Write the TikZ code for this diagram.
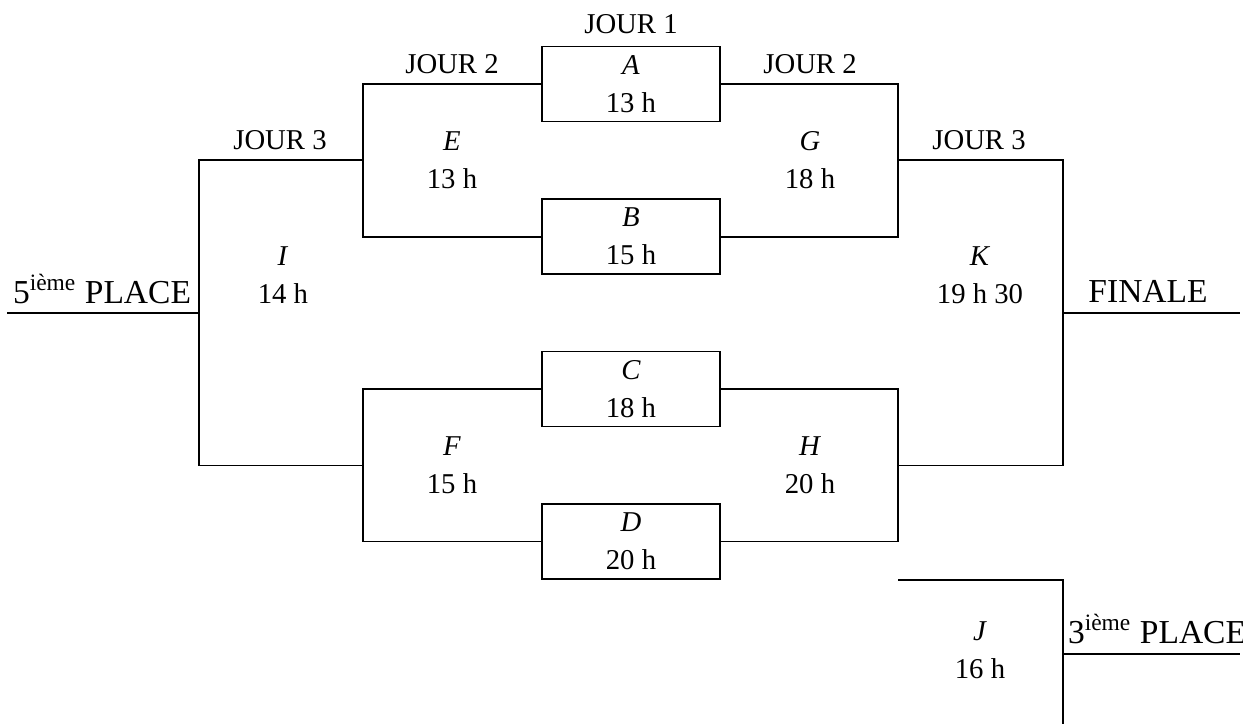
\documentclass[tikz,border=0pt]{standalone}
\usepackage{fontspec}
\setmainfont{Liberation Serif}
\usetikzlibrary{positioning}

\begin{document}
\begin{tikzpicture}[x=0.418pt, y=-0.418pt, line width=0.8pt,
	rencontre/.style={draw, rectangle, minimum width=74.4pt, minimum height=31.35pt,
		inner sep=0pt, align=center, font=\fontsize{12}{15.9}\selectfont},
	match/.style={align=center, inner sep=0pt, font=\fontsize{12}{15.9}\selectfont},
	jour/.style={anchor=base, inner sep=0pt, font=\fontsize{12}{14}\selectfont},
	place/.style={anchor=base, inner sep=0pt, font=\fontsize{14}{16}\selectfont}]
	\useasboundingbox (0,0) rectangle (1243,724);
	% JOUR 1
	\node[rencontre] (A) at (631,84) {\textit{A}\\13 h};
	\node[rencontre] (B) at (631,236.7) {\textit{B}\\15 h};
	\node[rencontre] (C) at (631,389) {\textit{C}\\18 h};
	\node[rencontre] (D) at (631,541.5) {\textit{D}\\20 h};
	\node[jour, anchor=south, above=4.5pt of A] (jour1) {JOUR 1};
	% JOUR 2
	\coordinate (jE) at (363,160.3);
	\coordinate (jF) at (363,465.5);
	\coordinate (jG) at (898,160.3);
	\coordinate (jH) at (898,465.5);
	\draw (A.west) -| (jE) |- (B.west);
	\draw (C.west) -| (jF) |- (D.west);
	\draw (A.east) -| (jG) |- (B.east);
	\draw (C.east) -| (jH) |- (D.east);
	\node[match] (E) at (452,160.3) {\textit{E}\\13 h};
	\node[match] (F) at (452,465.5) {\textit{F}\\15 h};
	\node[match] (G) at (810,160.3) {\textit{G}\\18 h};
	\node[match] (H) at (810,465.5) {\textit{H}\\20 h};
	\node[jour] (jour2g) at (452,74) {JOUR 2};
	\node[jour] (jour2d) at (810,74) {JOUR 2};
	% JOUR 3
	\coordinate (jI) at (199,312.8);
	\coordinate (jK) at (1062.7,312.8);
	\coordinate (p5) at (7,312.8);
	\coordinate (fin) at (1240,312.8);
	\draw (jE) -| (jI) |- (jF);
	\draw (jG) -| (jK) |- (jH);
	\draw (jI) -- (p5);
	\draw (jK) -- (fin);
	\node[match] (I) at (283,275) {\textit{I}\\14 h};
	\node[match] (K) at (980,275) {\textit{K}\\19 h 30};
	\node[jour] (jour3g) at (280,150) {JOUR 3};
	\node[jour] (jour3d) at (979,150) {JOUR 3};
	\node[place] (place5) at (102,303) {5\textsuperscript{ième} PLACE};
	\node[place] (finale) at (1148,302) {FINALE};
	% PETITE FINALE
	\coordinate (hJ) at (898,580);
	\coordinate (jJ) at (1062.7,654);
	\coordinate (bJ) at (1062.7,724);
	\coordinate (p3) at (1240,654);
	\draw (hJ) -| (jJ) -- (bJ);
	\draw (jJ) -- (p3);
	\node[match] (J) at (980,650) {\textit{J}\\16 h};
	\node[place] (place3) at (1157,643) {3\textsuperscript{ième} PLACE};
\end{tikzpicture}
\end{document}
